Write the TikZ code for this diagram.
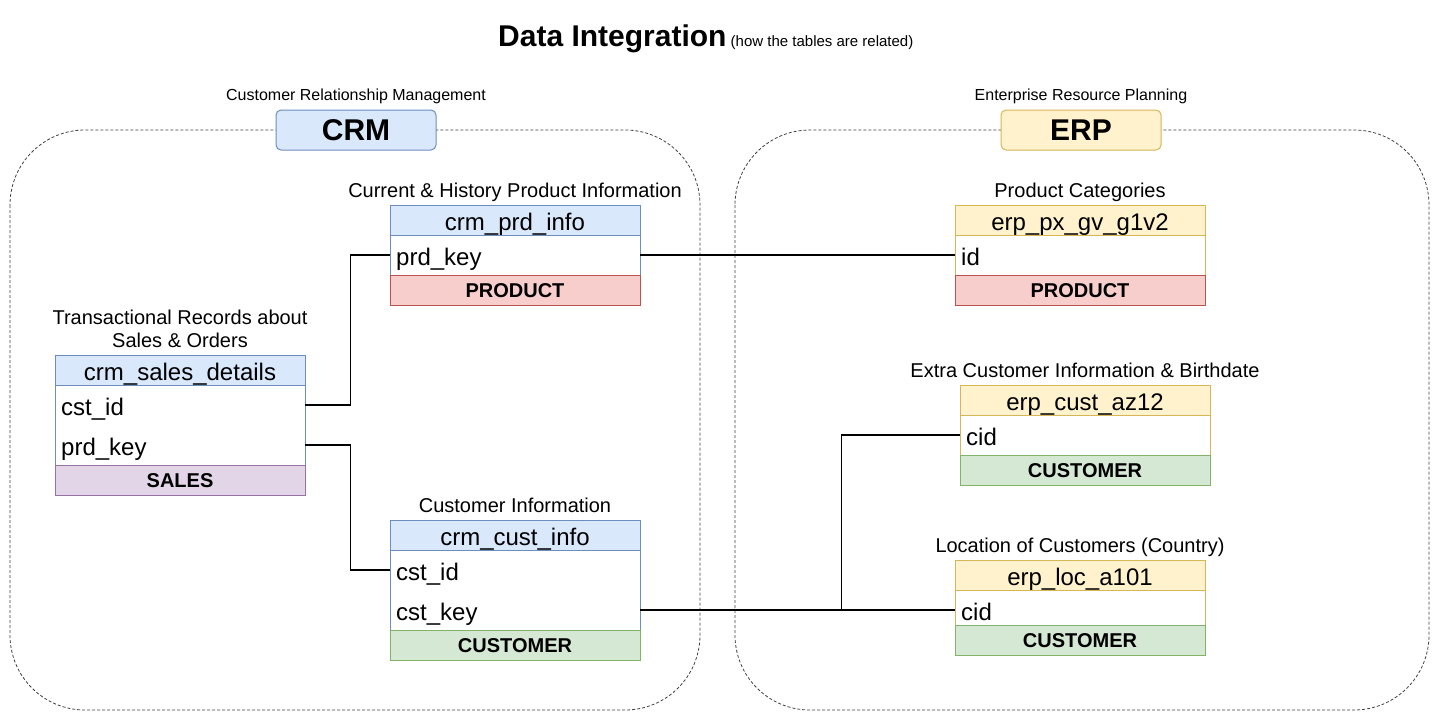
\documentclass[tikz,border=0pt]{standalone}
\usepackage{fontspec}
\setmainfont{Liberation Sans}

\definecolor{crmfill}{HTML}{DAE8FC}
\definecolor{crmline}{HTML}{6C8EBF}
\definecolor{erpfill}{HTML}{FFF2CC}
\definecolor{erpline}{HTML}{D6B656}
\definecolor{prodfill}{HTML}{F8CECC}
\definecolor{prodline}{HTML}{B85450}
\definecolor{custfill}{HTML}{D5E8D4}
\definecolor{custline}{HTML}{82B366}
\definecolor{salesfill}{HTML}{E1D5E7}
\definecolor{salesline}{HTML}{9673A6}

\tikzset{
    tbox/.style={line width=1pt, minimum width=250pt, inner sep=0pt, outer sep=0pt, anchor=north west},
    hdr/.style={tbox, draw, minimum height=30pt, text height=20pt, text depth=0pt, font=\fontsize{24}{28}\selectfont},
    tbody/.style={tbox, draw, fill=white},
    tfoot/.style={tbox, draw, minimum height=30pt, text height=14.3pt, text depth=0pt, font=\fontsize{20}{24}\selectfont\bfseries},
    field/.style={anchor=west, minimum width=250pt, text width=238pt, inner xsep=6pt, inner ysep=0pt, align=left, text height=20pt, text depth=0pt, font=\fontsize{24}{28}\selectfont},
    caption/.style={anchor=south, inner sep=0pt, text depth=4pt, align=center, font=\fontsize{20}{23}\selectfont},
    group/.style={draw, line width=1pt, rounded corners=5pt, minimum width=160pt, minimum height=40pt, inner sep=0pt, text height=21.5pt, text depth=0pt, font=\fontsize{30}{36}\selectfont\bfseries},
    grouplabel/.style={anchor=base, inner sep=0pt, font=\fontsize{16}{19}\selectfont},
    area/.style={dashed, dash pattern=on 3pt off 2pt, line width=0.8pt, color=black!75, rounded corners=75pt},
    link/.style={line width=1.3pt},
}

% one table: header, body, footer and caption
\newcommand{\DBTable}[8]{
    % #1 name, #2 top left, #3 header, #4 scheme, #5 body height, #6 footer, #7 footer scheme, #8 caption
    \node[hdr, fill=#4fill, draw=#4line] (#1) at #2 {#3};
    \node[tbody, draw=#4line, minimum height=#5] (#1-body) at (#1.south west) {};
    \node[tfoot, fill=#7fill, draw=#7line] (#1-foot) at (#1-body.south west) {#6};
    \node[caption] (#1-cap) at ([yshift=3pt]#1.north) {#8};
}

\begin{document}
\begin{tikzpicture}[x=1pt, y=-1pt]
    \useasboundingbox (0,0) rectangle (1436,721);

    % title
    \node[anchor=base west, inner sep=0pt, font=\fontsize{15}{18}\selectfont] (title) at (498,46)
        {{\fontsize{30}{36}\selectfont\bfseries Data Integration} (how the tables are related)};

    % the two source systems
    \draw[area] (10,130) rectangle (700,710);
    \draw[area] (735,130) rectangle (1429,710);

    \node[group, fill=crmfill, draw=crmline] (crm) at (356,130) {CRM};
    \node[grouplabel] (crm-cap) at (356,100) {Customer Relationship Management};
    \node[group, fill=erpfill, draw=erpline] (erp) at (1081,130) {ERP};
    \node[grouplabel] (erp-cap) at (1081,100) {Enterprise Resource Planning};

    % CRM tables
    \DBTable{prd}{(390,205)}{crm\_prd\_info}{crm}{40pt}{PRODUCT}{prod}{Current \& History Product Information}
    \DBTable{sales}{(55,355)}{crm\_sales\_details}{crm}{80pt}{SALES}{sales}{Transactional Records about\\Sales \& Orders}
    \DBTable{cust}{(390,520)}{crm\_cust\_info}{crm}{80pt}{CUSTOMER}{cust}{Customer Information}

    % ERP tables
    \DBTable{px}{(955,205)}{erp\_px\_gv\_g1v2}{erp}{40pt}{PRODUCT}{prod}{Product Categories}
    \DBTable{az}{(960,385)}{erp\_cust\_az12}{erp}{40pt}{CUSTOMER}{cust}{Extra Customer Information \& Birthdate}
    \DBTable{loc}{(955,560)}{erp\_loc\_a101}{erp}{35pt}{CUSTOMER}{cust}{Location of Customers (Country)}

    % key columns
    \node[field] (prdKey) at (390,255) {prd\_key};
    \node[field] (salesCst) at (55,405) {cst\_id};
    \node[field] (salesPrd) at (55,445) {prd\_key};
    \node[field] (custId) at (390,570) {cst\_id};
    \node[field] (custKey) at (390,610) {cst\_key};
    \node[field] (pxId) at (955,255) {id};
    \node[field] (azCid) at (960,435) {cid};
    \node[field] (locCid) at (955,610) {cid};

    % relations
    \draw[link] (prdKey.east) -- (pxId.west);
    \draw[link] (salesCst.east) -- ++(45,0) |- (prdKey.west);
    \draw[link] (salesPrd.east) -- ++(45,0) |- (custId.west);
    \draw[link] (custKey.east) -- (locCid.west);
    \draw[link] (custKey.east) -- ++(201,0) |- (azCid.west);
\end{tikzpicture}
\end{document}
